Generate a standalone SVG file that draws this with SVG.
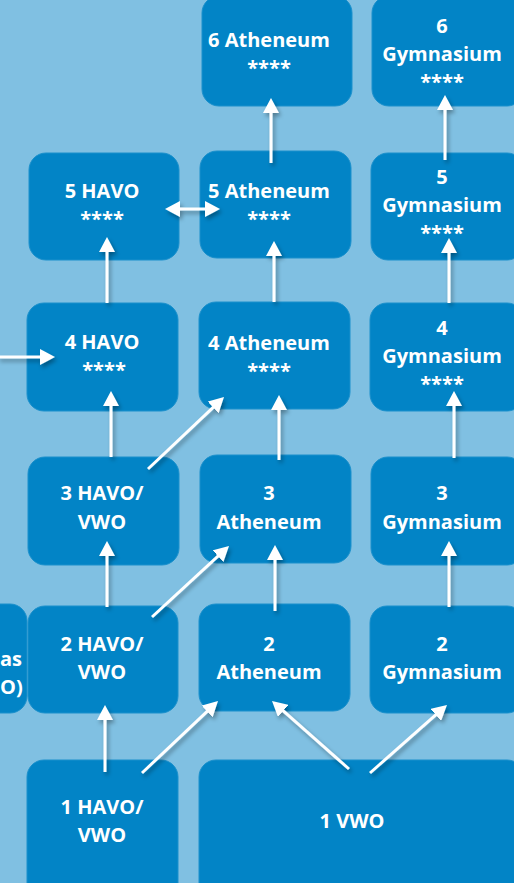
<svg xmlns="http://www.w3.org/2000/svg" width="514" height="883" viewBox="0 0 514 883">
<defs>
<style>
.box{fill:#0284c6;stroke:#1a90cc;stroke-width:1}
.t{font-family:"Open Sans","Liberation Sans",sans-serif;font-weight:700;font-size:20px;fill:#ffffff;text-anchor:middle}
.ts{text-anchor:start}
.c{stroke:#ffffff;stroke-width:3;fill:none;marker-end:url(#ah)}
.d{marker-start:url(#ah)}
</style>
<marker id="ah" viewBox="0 0 15 16" markerWidth="15" markerHeight="16" refX="3" refY="8" orient="auto-start-reverse" markerUnits="userSpaceOnUse">
<path d="M0,0 L15,8 L0,16 Z" fill="#ffffff"/>
</marker>
<filter id="sh" x="-20%" y="-20%" width="140%" height="140%">
<feGaussianBlur in="SourceAlpha" stdDeviation="2"/>
<feOffset dx="2" dy="3" result="b"/>
<feComponentTransfer><feFuncA type="linear" slope="0.35"/></feComponentTransfer>
<feMerge><feMergeNode/><feMergeNode in="SourceGraphic"/></feMerge>
</filter>
</defs>
<rect x="0" y="0" width="514" height="883" fill="#80c0e2"/>

<g id="node-left"><rect class="box" x="-150" y="604" width="177" height="109" rx="17"/>
<text class="t ts" x="0" y="666">as</text><text class="t ts" x="0" y="694">O)</text></g>

<g id="node-6ath"><rect class="box" x="202" y="-4" width="150" height="110" rx="17"/>
<text class="t" x="269" y="47">6 Atheneum</text><text class="t" x="269" y="75">****</text></g>
<g id="node-6gym"><rect class="box" x="372" y="-4" width="152" height="110" rx="17"/>
<text class="t" x="442" y="33">6</text><text class="t" x="442" y="61">Gymnasium</text><text class="t" x="442" y="89">****</text></g>

<g id="node-5havo"><rect class="box" x="29" y="153" width="150" height="107" rx="17"/>
<text class="t" x="102" y="198">5 HAVO</text><text class="t" x="102" y="226">****</text></g>
<g id="node-5ath"><rect class="box" x="200" y="151" width="151" height="107" rx="17"/>
<text class="t" x="269" y="198">5 Atheneum</text><text class="t" x="269" y="226">****</text></g>
<g id="node-5gym"><rect class="box" x="371" y="153" width="153" height="107" rx="17"/>
<text class="t" x="442" y="184">5</text><text class="t" x="442" y="212">Gymnasium</text><text class="t" x="442" y="240">****</text></g>

<g id="node-4havo"><rect class="box" x="27" y="303" width="151" height="108" rx="17"/>
<text class="t" x="102" y="349">4 HAVO</text><text class="t" x="104" y="377">****</text></g>
<g id="node-4ath"><rect class="box" x="199" y="302" width="151" height="107" rx="17"/>
<text class="t" x="269" y="350">4 Atheneum</text><text class="t" x="269" y="378">****</text></g>
<g id="node-4gym"><rect class="box" x="370" y="303" width="154" height="108" rx="17"/>
<text class="t" x="442" y="335">4</text><text class="t" x="442" y="363">Gymnasium</text><text class="t" x="442" y="391">****</text></g>

<g id="node-3havo"><rect class="box" x="28" y="457" width="151" height="108" rx="17"/>
<text class="t" x="102" y="500">3 HAVO/</text><text class="t" x="102" y="529">VWO</text></g>
<g id="node-3ath"><rect class="box" x="200" y="455" width="151" height="108" rx="17"/>
<text class="t" x="269" y="500">3</text><text class="t" x="269" y="529">Atheneum</text></g>
<g id="node-3gym"><rect class="box" x="371" y="457" width="153" height="108" rx="17"/>
<text class="t" x="442" y="500">3</text><text class="t" x="442" y="529">Gymnasium</text></g>

<g id="node-2havo"><rect class="box" x="28" y="606" width="150" height="107" rx="17"/>
<text class="t" x="102" y="651">2 HAVO/</text><text class="t" x="102" y="679">VWO</text></g>
<g id="node-2ath"><rect class="box" x="199" y="604" width="151" height="107" rx="17"/>
<text class="t" x="269" y="651">2</text><text class="t" x="269" y="679">Atheneum</text></g>
<g id="node-2gym"><rect class="box" x="370" y="606" width="154" height="107" rx="17"/>
<text class="t" x="442" y="651">2</text><text class="t" x="442" y="679">Gymnasium</text></g>

<g id="node-1havo"><rect class="box" x="27" y="760" width="151" height="140" rx="17"/>
<text class="t" x="102" y="814">1 HAVO/</text><text class="t" x="102" y="842">VWO</text></g>
<g id="node-1vwo"><rect class="box" x="199" y="760" width="325" height="140" rx="17"/>
<text class="t" x="352" y="828">1 VWO</text></g>

<g id="connectors" filter="url(#sh)">
<line class="c" x1="271" y1="163" x2="271" y2="110"/>
<line class="c" x1="445" y1="160" x2="445" y2="107"/>
<line class="c" x1="107" y1="303" x2="107" y2="249"/>
<line class="c" x1="274" y1="302" x2="274" y2="253"/>
<line class="c" x1="449" y1="303" x2="449" y2="250"/>
<line class="c d" x1="177" y1="209" x2="208" y2="209"/>
<line class="c" x1="-2" y1="357" x2="43" y2="357"/>
<line class="c" x1="111" y1="457" x2="111" y2="403"/>
<line class="c" x1="148" y1="469" x2="215.3" y2="405.3"/>
<line class="c" x1="279" y1="460" x2="279" y2="407"/>
<line class="c" x1="454" y1="458" x2="454" y2="403"/>
<line class="c" x1="107" y1="607" x2="107" y2="553"/>
<line class="c" x1="152" y1="617" x2="220.2" y2="554.1"/>
<line class="c" x1="275" y1="611" x2="275" y2="557"/>
<line class="c" x1="449" y1="607" x2="449" y2="553"/>
<line class="c" x1="105" y1="772" x2="105" y2="717"/>
<line class="c" x1="142" y1="773" x2="209.3" y2="709.3"/>
<line class="c" x1="349" y1="769" x2="281" y2="708.9"/>
<line class="c" x1="370" y1="773" x2="438" y2="712.9"/>
</g>
</svg>
